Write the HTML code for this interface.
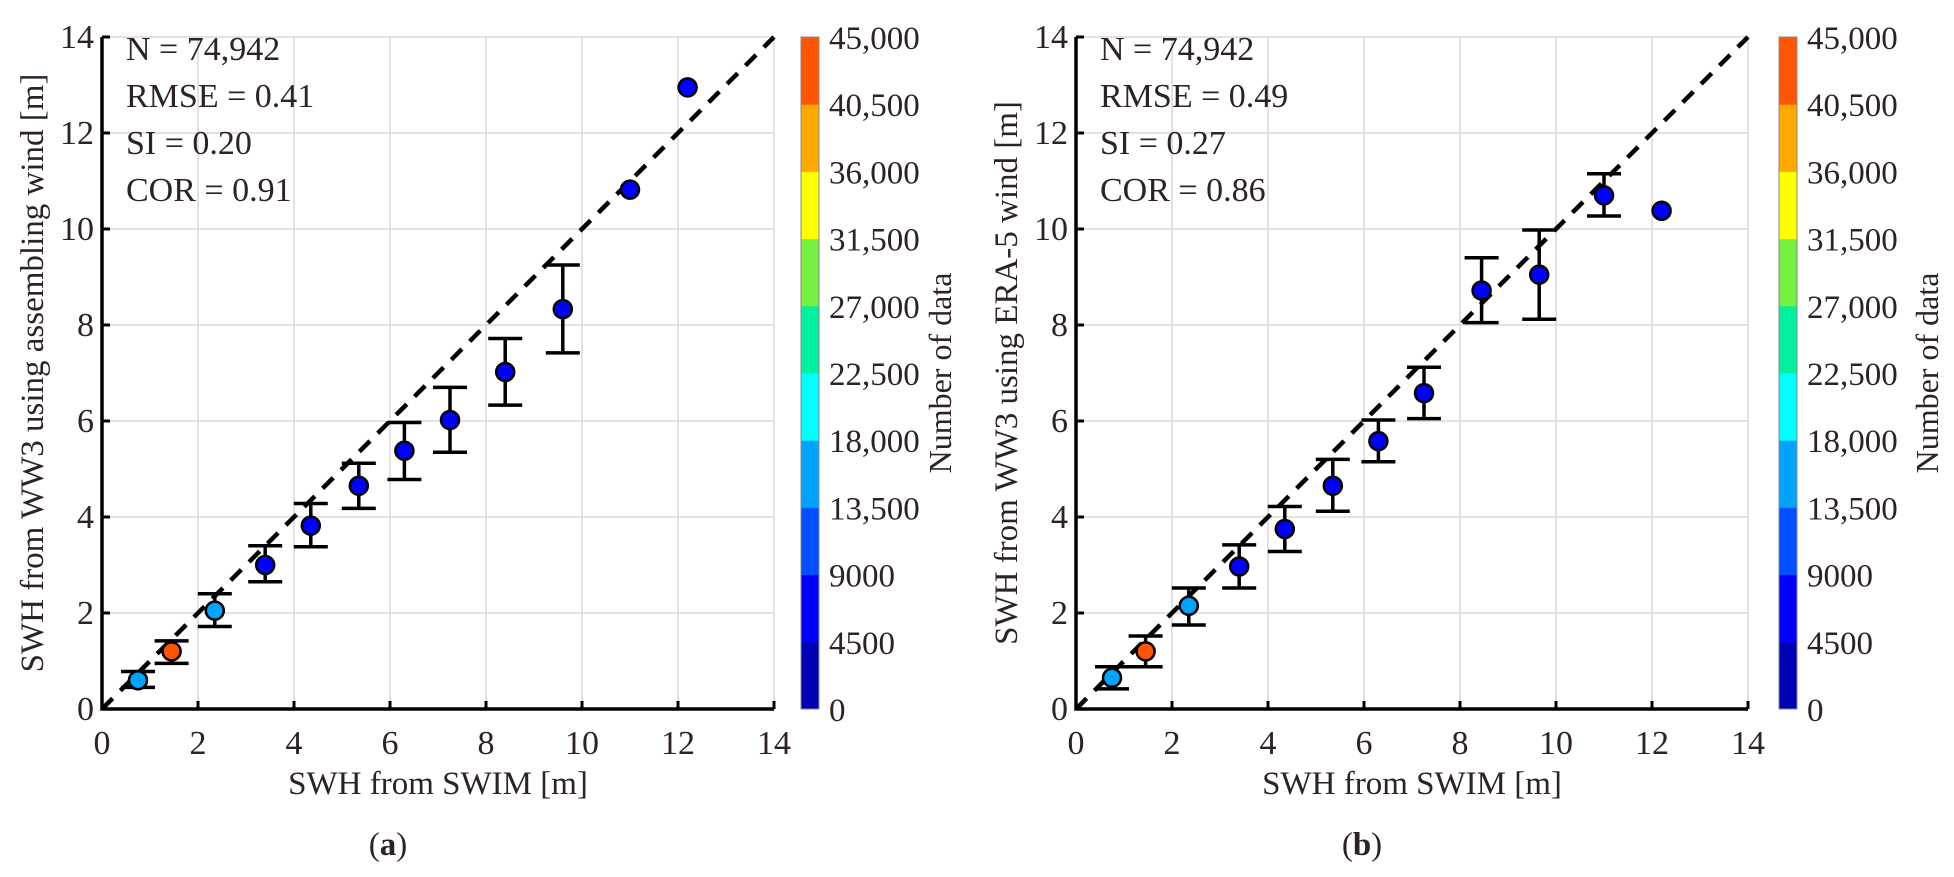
<!DOCTYPE html>
<html><head><meta charset="utf-8">
<style>
html,body{margin:0;padding:0;background:#fff;}
svg{display:block;font-family:"Liberation Serif",serif;}
text{fill:#2e2323;}
</style></head>
<body>
<svg id="fig" width="1954" height="877" viewBox="0 0 1954 877" xmlns="http://www.w3.org/2000/svg"></svg>
<script>
// ---- data ----
const ticks = [0,2,4,6,8,10,12,14];
const cbLabels = ["0","4500","9000","13,500","18,000","22,500","27,000","31,500","36,000","40,500","45,000"];
const cbColors = ["#0000b4","#0000ff","#0050ff","#00a4ff","#00ffff","#00f0a0","#78f040","#ffff00","#ffa800","#ff5500"];
const aX  = [0.75,1.45,2.35,3.4,4.35,5.35,6.3,7.25,8.4,9.6,11.0,12.2];
const aY  = [0.6,1.2,2.05,3.0,3.82,4.65,5.38,6.02,7.02,8.33,10.82,12.95];
const aLo = [0.45,0.95,1.72,2.65,3.38,4.18,4.78,5.35,6.33,7.42,null,null];
const aHi = [0.78,1.42,2.4,3.4,4.28,5.12,5.97,6.7,7.72,9.25,null,null];
const aC  = [3,9,3,1,1,1,1,1,1,1,1,1];
const bX  = [0.75,1.45,2.35,3.4,4.35,5.35,6.3,7.25,8.45,9.65,11.0,12.2];
const bY  = [0.65,1.2,2.15,2.97,3.75,4.65,5.58,6.58,8.72,9.05,10.7,10.38];
const bLo = [0.42,0.88,1.75,2.52,3.28,4.12,5.15,6.05,8.05,8.12,10.27,null];
const bHi = [0.88,1.52,2.52,3.42,4.22,5.2,6.02,7.12,9.4,9.98,11.15,null];
const bC  = [3,9,3,1,1,1,1,1,1,1,1,1];

const NS="http://www.w3.org/2000/svg";
const svg=document.getElementById('fig');
function mk(tag,attrs,parent,txt){const e=document.createElementNS(NS,tag);for(const k in attrs)e.setAttribute(k,attrs[k]);if(txt!==undefined)e.textContent=txt;(parent||svg).appendChild(e);return e;}

function panel(off,cbOff,titleX,X,Y,LO,HI,C,stats,ylab,id){
  const x0=102+off,x1=774+off,y0=709,y1=37;
  const sx=v=>x0+(x1-x0)*v/14, sy=v=>y0-(y0-y1)*v/14;
  const g=mk('g',{},svg);
  
  
  ticks.forEach(t=>{
    const v=mk('line',{x1:sx(t),x2:sx(t),y1:y0,y2:y1,stroke:'#e2e2e2','stroke-width':2},g);
    
    
    const h=mk('line',{x1:x0,x2:x1,y1:sy(t),y2:sy(t),stroke:'#e2e2e2','stroke-width':2},g);
    
    
  });
  const d=mk('line',{x1:sx(0),y1:sy(0),x2:sx(14),y2:sy(14),stroke:'#000','stroke-width':4.5,'stroke-dasharray':'15 11'},g);
  
  
  const ax=mk('path',{d:`M${x0} ${y1}V${y0}H${x1}`,fill:'none',stroke:'#000','stroke-width':3.5},g);
  
  
  ticks.forEach(t=>{
    mk('line',{x1:sx(t),x2:sx(t),y1:y0,y2:y0-8,stroke:'#000','stroke-width':3},g);
    mk('line',{x1:x0,x2:x0+8,y1:sy(t),y2:sy(t),stroke:'#000','stroke-width':3},g);
    const xl=mk('text',{x:sx(t),y:y0+45,'font-size':34,'text-anchor':'middle'},g,String(t));
    
    
    const yl=mk('text',{x:x0-8,y:sy(t)+11,'font-size':34,'text-anchor':'end'},g,String(t));
    
    
  });
  X.forEach((x,i)=>{
    if(LO[i]!==null){
      const eb=mk('path',{d:`M${sx(x)} ${sy(LO[i])}V${sy(HI[i])}M${sx(x)-17} ${sy(LO[i])}h34M${sx(x)-17} ${sy(HI[i])}h34`,stroke:'#000','stroke-width':3.5,fill:'none'},g);
      
      
    }
  });
  X.forEach((x,i)=>{
    const c=mk('circle',{cx:sx(x),cy:sy(Y[i]),r:9,fill:cbColors[C[i]],stroke:'#000','stroke-width':2.5},g);
    
    
  });
  stats.forEach((s,i)=>{
    const t=mk('text',{x:x0+24,y:60+i*47,'font-size':34},g,s);
    
    
  });
  const yt=mk('text',{x:0,y:0,'font-size':33,'text-anchor':'middle',transform:`translate(${43+off},${373}) rotate(-90)`},g,ylab);
  
  
  const xt=mk('text',{x:(x0+x1)/2,y:794,'font-size':33,'text-anchor':'middle'},g,'SWH from SWIM [m]');
  
  
  const cp=mk('text',{x:(x0+x1)/2-50,y:855,'font-size':33,'text-anchor':'middle'},g);
  
  
  mk('tspan',{},cp,'(');mk('tspan',{'font-weight':'bold'},cp,id);mk('tspan',{},cp,')');
  const cx0=801+cbOff,cw=18,seg=(y0-y1)/10;
  cbColors.forEach((col,i)=>{
    const r=mk('rect',{x:cx0,y:y0-(i+1)*seg,width:cw,height:seg+0.5,fill:col},g);
    
    
  });
  mk('rect',{x:cx0,y:y1,width:cw,height:y0-y1,fill:'none',stroke:'#888','stroke-width':1},g);
  cbLabels.forEach((l,i)=>{
    const t=mk('text',{x:cx0+28,y:y0-i*seg+12,'font-size':33},g,l);
    
    
  });
  const ct=mk('text',{x:0,y:0,'font-size':32,'text-anchor':'middle',transform:`translate(${titleX},${373}) rotate(-90)`},g,'Number of data');
  
  
}
panel(0,0,951,aX,aY,aLo,aHi,aC,["N = 74,942","RMSE = 0.41","SI = 0.20","COR = 0.91"],"SWH from WW3 using assembling wind [m]","a");
panel(974,978,1938,bX,bY,bLo,bHi,bC,["N = 74,942","RMSE = 0.49","SI = 0.27","COR = 0.86"],"SWH from WW3 using ERA-5 wind [m]","b");
</script>
</body></html>
